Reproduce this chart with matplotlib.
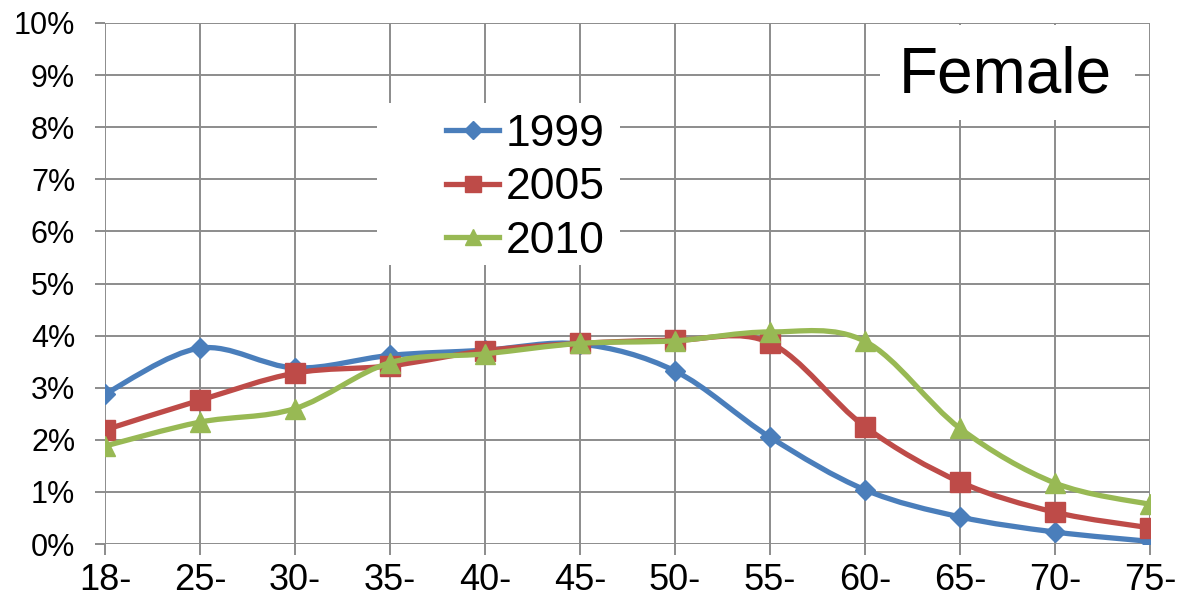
import numpy as np
import matplotlib
matplotlib.use("Agg")
import matplotlib.pyplot as plt
from matplotlib.path import Path
from matplotlib.patches import PathPatch, Rectangle
from matplotlib.lines import Line2D

plt.rcParams['font.family'] = ['Liberation Sans', 'DejaVu Sans']

# ---- data ----
categories = ["18-", "25-", "30-", "35-", "40-", "45-", "50-", "55-", "60-", "65-", "70-", "75-"]
y1999 = [2.88, 3.76, 3.38, 3.62, 3.72, 3.84, 3.32, 2.05, 1.04, 0.52, 0.23, 0.05]
y2005 = [2.19, 2.76, 3.28, 3.42, 3.71, 3.85, 3.91, 3.86, 2.25, 1.19, 0.61, 0.31]
y2010 = [1.88, 2.34, 2.60, 3.48, 3.65, 3.85, 3.90, 4.07, 3.89, 2.22, 1.17, 0.76]
series_names = ["1999", "2005", "2010"]
y_ticks = [0, 1, 2, 3, 4, 5, 6, 7, 8, 9, 10]
y_ticklabels = [f"{v}%" for v in y_ticks]
panel_label = "Female"

colors = ["#4A7EBB", "#BE4B48", "#98B954"]
markers = ["D", "s", "^"]
msizes = [10, 14, 15]
leg_msizes = [9, 12, 12]

W, H = 1183, 604
fig = plt.figure(figsize=(W / 100, H / 100), dpi=100)
ax = fig.add_axes([105 / W, 1 - 544 / H, 1045 / W, 521 / H])

x = np.arange(len(categories))


def smooth_path(xs, ys):
    pts = np.column_stack([xs, ys]).astype(float)
    n = len(pts)
    verts = [pts[0]]
    codes = [Path.MOVETO]
    for i in range(n - 1):
        p0 = pts[i - 1] if i > 0 else pts[i]
        p1 = pts[i]
        p2 = pts[i + 1]
        p3 = pts[i + 2] if i + 2 < n else pts[i + 1]
        c1 = p1 + (p2 - p0) / 6.0
        c2 = p2 - (p3 - p1) / 6.0
        verts += [c1, c2, p2]
        codes += [Path.CURVE4] * 3
    return Path(verts, codes)


for k, ys in enumerate([y1999, y2005, y2010]):
    patch = PathPatch(smooth_path(x, ys), fill=False, edgecolor=colors[k],
                      linewidth=3.8, capstyle='round', joinstyle='round',
                      zorder=3 + k * 0.1)
    ax.add_patch(patch)
    ax.plot(x, ys, linestyle='none', marker=markers[k], markersize=msizes[k],
            color=colors[k], markeredgecolor=colors[k], zorder=3.05 + k * 0.1)

ax.set_xlim(0, len(categories) - 1)
ax.set_ylim(0, 10)
ax.set_xticks(x)
ax.set_xticklabels(categories)
ax.set_yticks(y_ticks)
ax.set_yticklabels(y_ticklabels)

grid_c = "#8C8C8C"
ax.set_axisbelow(True)
ax.grid(True, color=grid_c, linewidth=1.4, zorder=0.5)
for s in ax.spines.values():
    s.set_visible(False)
ax.tick_params(axis='y', length=7.5, width=1.4, color=grid_c, pad=14, labelsize=22)
ax.tick_params(axis='x', length=8, width=1.4, color=grid_c, pad=6, labelsize=26)

# white boxes behind legend and label
ax.add_patch(Rectangle((0.260, 0.5355), 0.233, 0.311, transform=ax.transAxes,
                       facecolor='white', edgecolor='none', zorder=1))
ax.add_patch(Rectangle((0.7416, 0.8138), 0.244, 0.182, transform=ax.transAxes,
                       facecolor='white', edgecolor='none', zorder=1))

ax.text(0.862, 0.90, panel_label, transform=ax.transAxes, fontsize=46,
        ha='center', va='center', zorder=4)

handles = [Line2D([], [], color=colors[k], linewidth=3.8, marker=markers[k],
                  markersize=leg_msizes[k]) for k in range(3)]
leg = ax.legend(handles, series_names, loc='upper left',
                bbox_to_anchor=(0.3263, 0.8253), frameon=False, fontsize=32,
                borderpad=0, borderaxespad=0, handlelength=1.2,
                handletextpad=0.15, labelspacing=0.28)
leg.set_zorder(5)

fig.savefig("out.png", dpi=100)
